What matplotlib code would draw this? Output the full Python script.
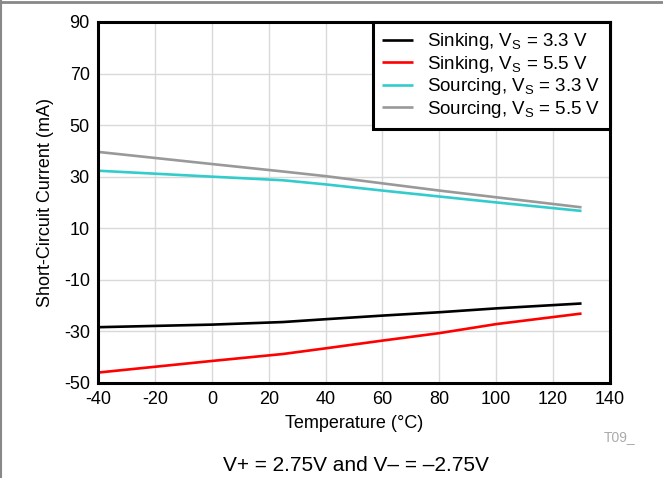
import matplotlib
matplotlib.use("Agg")
import matplotlib.pyplot as plt
from matplotlib.lines import Line2D

plt.rcParams['font.family'] = ['Liberation Sans', 'DejaVu Sans']
plt.rcParams['mathtext.fontset'] = 'custom'
plt.rcParams['mathtext.rm'] = 'Liberation Sans'
plt.rcParams['mathtext.it'] = 'Liberation Sans'
plt.rcParams['axes.unicode_minus'] = False

temps = [-40, 0, 25, 40, 60, 80, 100, 130]
sink_33 = [-28.4, -27.4, -26.4, -25.3, -23.9, -22.6, -21.1, -19.2]
sink_55 = [-46.0, -41.5, -38.8, -36.6, -33.6, -30.7, -27.2, -23.1]
src_33 = [32.3, 30.0, 28.6, 27.0, 24.6, 22.3, 20.0, 16.7]
src_55 = [39.6, 34.9, 32.0, 30.2, 27.4, 24.6, 22.0, 18.1]
labels = ["Sinking, V$_\\mathrm{S}$ = 3.3 V", "Sinking, V$_\\mathrm{S}$ = 5.5 V",
          "Sourcing, V$_\\mathrm{S}$ = 3.3 V", "Sourcing, V$_\\mathrm{S}$ = 5.5 V"]
colors = ["#000000", "#ff0000", "#33cccc", "#999999"]
xticks = list(range(-40, 141, 20))
yticks = list(range(-50, 91, 20))

fig = plt.figure(figsize=(6.63, 4.78), dpi=100)
ax = fig.add_axes([0.148, 0.199, 0.772, 0.755])
for y, c, l in zip([sink_33, sink_55, src_33, src_55], colors, labels):
    ax.plot(temps, y, color=c, lw=1.9, label=l, solid_capstyle='butt')
ax.set_xlim(-40, 140)
ax.set_ylim(-50, 90)
ax.set_xticks(xticks)
ax.set_yticks(yticks)
ax.grid(True, color='#d9d9d9', lw=1.0)
ax.set_axisbelow(True)
ax.tick_params(length=0, labelsize=13, pad=6)
for s in ax.spines.values():
    s.set_linewidth(2.2)
ax.set_xlabel("Temperature (°C)", fontsize=13, labelpad=5)
ax.set_ylabel("Short-Circuit Current (mA)", fontsize=13, labelpad=7)
leg = ax.legend(loc='upper right', fontsize=13.5, frameon=True, fancybox=False,
                borderaxespad=0, handlelength=1.65, handletextpad=0.75,
                labelspacing=0.08, borderpad=0.5, framealpha=1)
leg.get_frame().set_edgecolor('black')
leg.get_frame().set_linewidth(2.2)

fig.text(0.911, 0.085, "T09_", color='#aaaaaa', fontsize=10, ha='left', va='center')
fig.text(0.537, 0.027, "V+ = 2.75V and V\u2013 = \u20132.75V", fontsize=15, ha='center', va='center')
fig.add_artist(Line2D([0, 1], [0.995, 0.995], color='#888888', lw=2, transform=fig.transFigure))
fig.add_artist(Line2D([0.001, 0.001], [0, 1], color='#888888', lw=1.5, transform=fig.transFigure))
fig.savefig("out.png", dpi=100)
